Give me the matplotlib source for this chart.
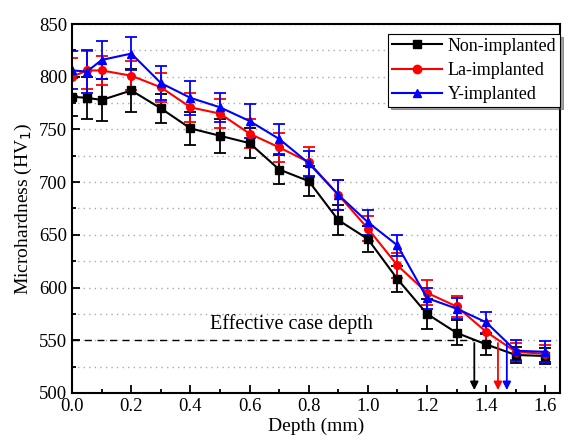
import numpy as np
import matplotlib.pyplot as plt
from matplotlib.ticker import MultipleLocator
from matplotlib.lines import Line2D

plt.rcParams['font.family'] = ['Liberation Serif', 'DejaVu Serif']

depth = [0.0, 0.05, 0.1, 0.2, 0.3, 0.4, 0.5, 0.6, 0.7, 0.8, 0.9, 1.0, 1.1, 1.2, 1.3, 1.4, 1.5, 1.6]

non_hv = [781, 780, 778, 787, 770, 751, 744, 737, 712, 701, 664, 646, 608, 575, 557, 546, 536, 535]
non_err = [18, 20, 20, 20, 14, 16, 16, 14, 14, 14, 14, 12, 12, 14, 12, 10, 8, 8]

la_hv = [800, 806, 806, 801, 790, 771, 765, 746, 733, 719, 688, 656, 621, 595, 582, 558, 539, 537]
la_err = [18, 18, 14, 14, 14, 14, 14, 14, 14, 14, 14, 12, 12, 12, 10, 10, 8, 8]

y_hv = [806, 805, 816, 822, 794, 780, 771, 758, 741, 718, 688, 662, 640, 590, 580, 567, 540, 539]
y_err = [18, 20, 18, 16, 16, 16, 14, 16, 14, 12, 14, 12, 10, 10, 10, 10, 10, 10]

labels = ['Non-implanted', 'La-implanted', 'Y-implanted']
colors = ['black', 'red', 'blue']
markers = ['s', 'o', '^']

case_hv = 550
case_depths = [1.36, 1.44, 1.47]

fig, ax = plt.subplots(figsize=(5.64, 4.38), dpi=100)
fig.subplots_adjust(left=0.128, right=0.993, top=0.945, bottom=0.103)

for hv, err, c, m in zip([non_hv, la_hv, y_hv], [non_err, la_err, y_err], colors, markers):
    ax.errorbar(depth, hv, yerr=err, color=c, marker=m, ms=5.5, lw=1.5,
                capsize=4, elinewidth=1.3, capthick=1.3)

ax.plot([0, case_depths[0]], [case_hv, case_hv], color='black', ls=(0, (5, 4)), lw=1)
ax.text(0.74, case_hv + 6, 'Effective case depth', ha='center', va='bottom', fontsize=14.5)
for d, c in zip(case_depths, colors):
    ax.annotate('', xy=(d, 500), xytext=(d, case_hv),
                arrowprops=dict(arrowstyle='-|>', color=c, lw=1.3, mutation_scale=12))

ax.set_xlim(0, 1.65)
ax.set_ylim(500, 850)
ax.xaxis.set_minor_locator(MultipleLocator(0.1))
ax.yaxis.set_major_locator(MultipleLocator(50))
ax.yaxis.set_minor_locator(MultipleLocator(25))
ticks = np.arange(0, 1.61, 0.2)
ax.set_xticks(ticks)
ax.set_xticklabels(['%.1f' % v for v in ticks])
ax.tick_params(which='major', direction='in', length=6, width=1.3, labelsize=13.5)
ax.tick_params(which='minor', direction='in', length=3, width=1.3)
ax.grid(True, which='both', axis='y', ls=(0, (1, 3)), color='#aaaaaa', lw=1)
for s in ax.spines.values():
    s.set_linewidth(1.5)

ax.set_xlabel('Depth (mm)', fontsize=14, labelpad=2)
ax.set_ylabel('Microhardness (HV$_1$)', fontsize=14)

handles = [Line2D([], [], color=c, marker=m, ms=6, lw=1.5) for c, m in zip(colors, markers)]
leg = ax.legend(handles, labels, loc='upper right', bbox_to_anchor=(1.0, 0.973),
                fontsize=13, fancybox=False, shadow=True, edgecolor='black', framealpha=1,
                borderpad=0.2, handlelength=2.8, handletextpad=0.3, labelspacing=0.4,
                borderaxespad=0)
leg.get_frame().set_linewidth(0.8)

plt.savefig('out.png', dpi=100)
